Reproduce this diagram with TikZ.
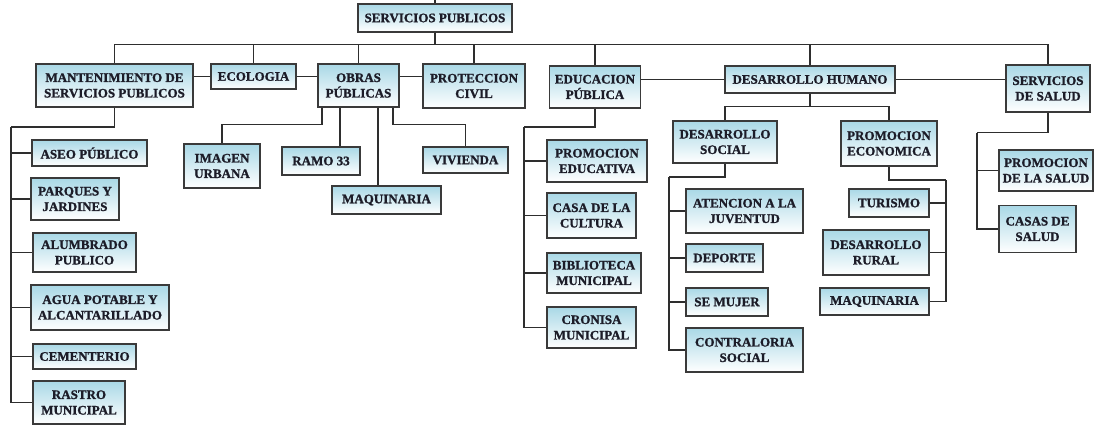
\documentclass[tikz,border=0pt]{standalone}
\usepackage{fontspec}
\setmainfont{Liberation Serif}[BoldFeatures={FakeBold=1.2}]
\usepackage{tikz}
\usetikzlibrary{positioning,calc}
\definecolor{boxblue}{HTML}{A9D8E6}
\definecolor{boxline}{HTML}{3A3A3A}
\definecolor{wirecol}{HTML}{2E2E2E}
\definecolor{ink}{HTML}{1C1C28}
\tikzstyle{unit} = [rectangle, draw=boxline, line width=1.3pt, top color=boxblue, bottom color=white,
                    text=ink, align=center, inner sep=2pt, font=\fontsize{13}{15.5}\selectfont\bfseries]
\tikzstyle{wire} = [draw=wirecol, line width=1.3pt]

\begin{document}
\begin{tikzpicture}[x=1pt, y=-1pt]
	\useasboundingbox (0,0) rectangle (1094,425);

	\node[unit, minimum width=154, minimum height=28] (root) at (435,18) {SERVICIOS PUBLICOS};

	\node[unit, minimum width=157, minimum height=43] (mant)  at (114.5,85.5) {MANTENIMIENTO DE\\SERVICIOS PUBLICOS};
	\node[unit, minimum width=85,  minimum height=25] (eco)   at (253.5,76.5) {ECOLOGIA};
	\node[unit, minimum width=81,  minimum height=43] (obras) at (358.5,85.5) {OBRAS\\PÚBLICAS};
	\node[unit, minimum width=102, minimum height=44] (prot)  at (474,86)     {PROTECCION\\CIVIL};
	\node[unit, minimum width=91,  minimum height=42] (educ)  at (595,87)     {EDUCACION\\PÚBLICA};
	\node[unit, minimum width=170, minimum height=27] (dh)    at (810,79.5)   {DESARROLLO HUMANO};
	\node[unit, minimum width=84,  minimum height=47] (ss)    at (1048,88.5)  {SERVICIOS\\DE SALUD};

	\node[unit, minimum width=115, minimum height=26] (aseo)       at (89.5,153)   {ASEO PÚBLICO};
	\node[unit, minimum width=88,  minimum height=42] (parques)    at (75,199)     {PARQUES Y\\JARDINES};
	\node[unit, minimum width=103, minimum height=39] (alumbrado)  at (84.5,252.5) {ALUMBRADO\\PUBLICO};
	\node[unit, minimum width=138, minimum height=45] (agua)       at (100,307.5)  {AGUA POTABLE Y\\ALCANTARILLADO};
	\node[unit, minimum width=103, minimum height=25] (cementerio) at (84.5,356.5) {CEMENTERIO};
	\node[unit, minimum width=92,  minimum height=43] (rastro)     at (79,402.5)   {RASTRO\\MUNICIPAL};

	\node[unit, minimum width=76,  minimum height=44] (imagen)   at (222,166)   {IMAGEN\\URBANA};
	\node[unit, minimum width=78,  minimum height=28] (ramo)     at (321,161)   {RAMO 33};
	\node[unit, minimum width=109, minimum height=28] (maq)      at (386.5,200) {MAQUINARIA};
	\node[unit, minimum width=85,  minimum height=26] (vivienda) at (465.5,160) {VIVIENDA};

	\node[unit, minimum width=100, minimum height=42] (promedu) at (597,161)   {PROMOCION\\EDUCATIVA};
	\node[unit, minimum width=89,  minimum height=45] (casa)    at (591.5,215.5) {CASA DE LA\\CULTURA};
	\node[unit, minimum width=94,  minimum height=40] (biblio)  at (594,273)   {BIBLIOTECA\\MUNICIPAL};
	\node[unit, minimum width=89,  minimum height=41] (cronisa) at (591.5,327.5) {CRONISA\\MUNICIPAL};

	\node[unit, minimum width=104, minimum height=42] (ds) at (725,142)   {DESARROLLO\\SOCIAL};
	\node[unit, minimum width=96,  minimum height=45] (pe) at (889,143.5) {PROMOCION\\ECONOMICA};

	\node[unit, minimum width=117, minimum height=44] (atencion)    at (744.5,211) {ATENCION A LA\\JUVENTUD};
	\node[unit, minimum width=77,  minimum height=28] (deporte)     at (724.5,258) {DEPORTE};
	\node[unit, minimum width=82,  minimum height=28] (semujer)     at (727,302)   {SE MUJER};
	\node[unit, minimum width=117, minimum height=44] (contraloria) at (744.5,350) {CONTRALORIA\\SOCIAL};

	\node[unit, minimum width=80,  minimum height=28] (turismo) at (889,203)   {TURISMO};
	\node[unit, minimum width=106, minimum height=45] (rural)   at (876,252.5) {DESARROLLO\\RURAL};
	\node[unit, minimum width=109, minimum height=27] (maqeco)  at (874.5,301.5) {MAQUINARIA};

	\node[unit, minimum width=94, minimum height=41] (promsalud) at (1046,170.5) {PROMOCION\\DE LA SALUD};
	\node[unit, minimum width=77, minimum height=47] (casas)     at (1037.5,229) {CASAS DE\\SALUD};

	\coordinate (rootin) at (435,0);
	\coordinate (mbus)   at (11,127);
	\coordinate (ebus)   at (524,127);
	\coordinate (dsbus)  at (669,177);
	\coordinate (pebus)  at (946,180);
	\coordinate (ssbus)  at (977,132.5);

	\draw[wire] (rootin) -- (root.north);
	\foreach \n in {mant,eco,obras,prot,educ,dh,ss}
		\draw[wire] (root.south) -- ++(0,12) -| (\n.north);

	\draw[wire] (eco.west -| mant.east) -- (eco.west);
	\draw[wire] (eco.east) -- (eco.east -| obras.west);
	\draw[wire] (eco.east -| obras.east) -- (eco.east -| prot.west);
	\draw[wire] (dh.west -| educ.east) -- (dh.west);
	\draw[wire] (dh.east) -- (dh.east -| ss.west);

	\draw[wire] (mant.south) |- (mbus);
	\foreach \n in {aseo,parques,alumbrado,agua,cementerio,rastro}
		\draw[wire] (mbus) |- (\n.west);

	\draw[wire] ([xshift=-36.5pt]obras.south) -- ++(0,17) -| (imagen.north);
	\draw[wire] ([xshift=-18.5pt]obras.south) -- ([xshift=-18.5pt]obras.south |- ramo.north);
	\draw[wire] ([xshift=19.5pt]obras.south) -- ([xshift=19.5pt]obras.south |- maq.north);
	\draw[wire] ([xshift=34.5pt]obras.south) -- ++(0,17) -| (vivienda.north);

	\draw[wire] (educ.south) |- (ebus);
	\foreach \n in {promedu,casa,biblio,cronisa}
		\draw[wire] (ebus) |- (\n.west);

	\draw[wire] (dh.south) -- ++(0,13) -| (ds.north);
	\draw[wire] (dh.south) -- ++(0,13) -| (pe.north);

	\draw[wire] (ds.south) |- (dsbus);
	\foreach \n in {atencion,deporte,semujer,contraloria}
		\draw[wire] (dsbus) |- (\n.west);

	\draw[wire] (pe.south) |- (pebus);
	\foreach \n in {turismo,rural,maqeco}
		\draw[wire] (pebus) |- (\n.east);

	\draw[wire] (ss.south) |- (ssbus);
	\foreach \n in {promsalud,casas}
		\draw[wire] (ssbus) |- (\n.west);
\end{tikzpicture}
\end{document}
